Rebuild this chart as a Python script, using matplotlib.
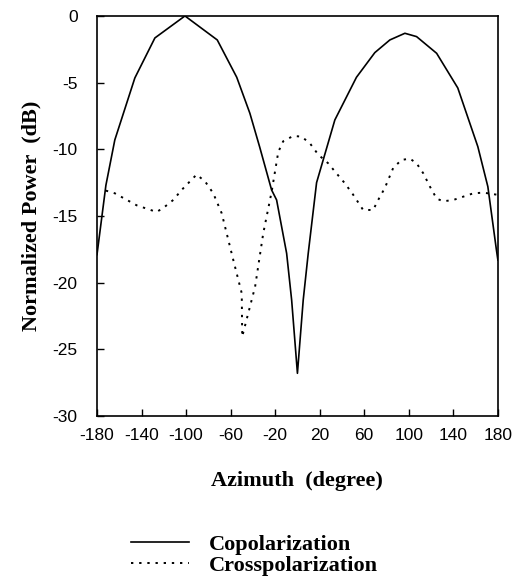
import numpy as np
import matplotlib.pyplot as plt

plt.rcParams['axes.unicode_minus'] = False

# azimuth (deg) and normalized power (dB)
co_az = [-180, -172, -164, -146, -128, -101, -72, -54.5, -42.7, -34, -23.2, -18.7,
         -9.7, -5.2, 0, 5.2, 9.7, 17.2, 33.6, 53, 69.5, 83, 96.5, 107, 125, 144,
         162, 171, 178.7, 180]
co_db = [-17.9, -12.7, -9.3, -4.65, -1.65, 0, -1.8, -4.6, -7.3, -9.8, -13.05, -13.8,
         -17.8, -21.3, -26.8, -21.3, -17.8, -12.5, -7.8, -4.6, -2.75, -1.8, -1.3, -1.55,
         -2.8, -5.4, -9.8, -12.8, -17.55, -18.3]

cx_az = [-172, -164, -144.4, -126.5, -120.5, -111.5, -104, -90.6, -83, -75.6, -68,
         -57.6, -50, -49.6, -38, -30.7, -23.2, -17.2, -12.8, -3.8, 3.7, 11.2, 18.7,
         27.6, 35, 42.6, 50, 59, 68, 72.5, 78.5, 86, 93.4, 101, 107, 113, 119, 125,
         131, 140, 149, 158, 167, 178.7]
cx_db = [-13.1, -13.3, -14.2, -14.7, -14.4, -13.8, -13.05, -11.9, -12.4, -13.3, -14.8,
         -18.3, -20.8, -24.05, -20.3, -16.3, -13.2, -10.2, -9.4, -9.0, -9.05, -9.55, -10.4,
         -11.05, -11.8, -12.55, -13.4, -14.55, -14.55, -13.8, -12.9, -11.4, -10.8, -10.7,
         -11.05, -11.8, -12.8, -13.7, -13.9, -13.8, -13.55, -13.3, -13.25, -13.4]

x_ticks = [-180, -140, -100, -60, -20, 20, 60, 100, 140, 180]
y_ticks = [0, -5, -10, -15, -20, -25, -30]

fig = plt.figure(figsize=(5.17, 5.84), dpi=100)
ax = fig.add_axes([0.1876, 0.2877, 0.7754, 0.685])

l1, = ax.plot(co_az, co_db, color='black', linewidth=1.2, label='Copolarization')
l2, = ax.plot(cx_az, cx_db, color='black', linewidth=1.4, linestyle=(0, (1.2, 3.0)),
              label='Crosspolarization')

ax.set_xlim(-180, 180)
ax.set_ylim(-30, 0)
ax.set_xticks(x_ticks)
ax.set_yticks(y_ticks)
ax.tick_params(direction='in', length=5, width=1, labelsize=12.5)
ax.tick_params(axis='x', pad=9)
ax.tick_params(axis='y', pad=14)
for lab in ax.get_xticklabels() + ax.get_yticklabels():
    lab.set_family('Liberation Sans')
for s in ax.spines.values():
    s.set_linewidth(1.2)

ax.set_xlabel('Azimuth  (degree)', family='Liberation Serif', fontweight='bold',
              fontsize=16, labelpad=20)
ax.set_ylabel('Normalized Power  (dB)', family='Liberation Serif', fontweight='bold',
              fontsize=16, labelpad=8)

fig.legend(handles=[l1, l2], loc='lower left', bbox_to_anchor=(0.215, -0.02),
           frameon=False, handlelength=2.6, handletextpad=0.9, labelspacing=0.0,
           prop={'family': 'Liberation Serif', 'weight': 'bold', 'size': 16})

fig.savefig('out.png', dpi=100)
